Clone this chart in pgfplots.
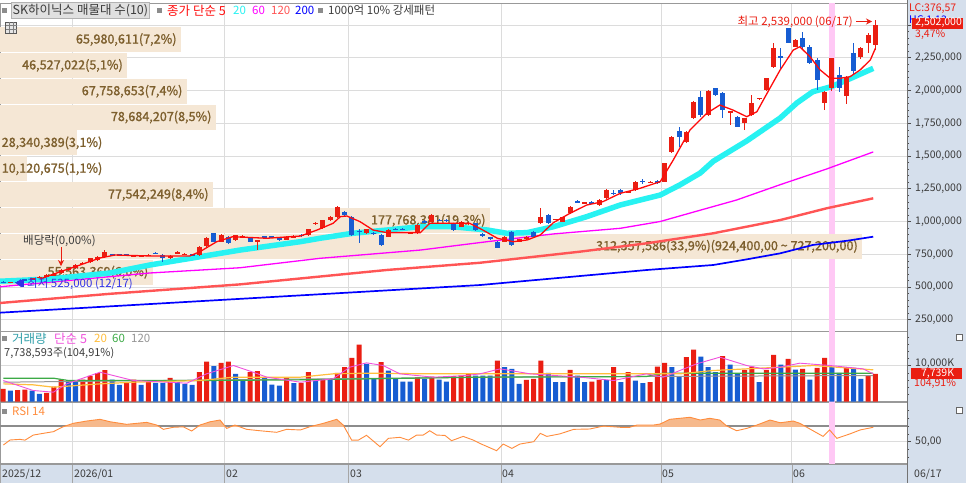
\documentclass[border=0pt]{standalone}
\usepackage{fontspec}
\setmainfont{Noto Sans CJK KR}
\newfontfamily\bandfont{Noto Sans CJK KR}[FakeBold=1.2]
\usepackage{pgfplots}
\pgfplotsset{compat=1.18}
\usepackage{pgfplotstable}
\usetikzlibrary{arrows.meta}

\definecolor{cred}{RGB}{234,30,18}
\definecolor{cblue}{RGB}{22,92,210}
\definecolor{ma5}{RGB}{255,10,10}
\definecolor{ma20}{RGB}{40,242,242}
\definecolor{ma60}{RGB}{255,0,255}
\definecolor{ma120}{RGB}{255,85,85}
\definecolor{ma200}{RGB}{0,0,255}
\definecolor{band}{RGB}{245,231,213}
\definecolor{bandtxt}{RGB}{125,95,45}
\definecolor{gridc}{RGB}{220,220,220}
\definecolor{panel}{RGB}{213,223,236}
\definecolor{hl}{RGB}{255,200,245}
\definecolor{rsic}{RGB}{255,140,60}
\definecolor{rsifill}{RGB}{246,185,140}
\definecolor{vma5}{RGB}{240,80,220}
\definecolor{vma20}{RGB}{255,190,60}
\definecolor{vma60}{RGB}{60,170,70}
\definecolor{vma120}{RGB}{150,150,150}
\definecolor{txt}{RGB}{60,60,60}
\definecolor{teal}{RGB}{50,160,170}
\definecolor{lowc}{RGB}{50,50,230}

\newcommand{\fs}{\fontsize{10.5}{12}\selectfont}
\newcommand{\ms}{\fontsize{11.5}{13}\selectfont}
\newcommand{\ks}{\fontsize{12.5}{14}\selectfont}
\newcommand{\bfs}{\bandfont\fontsize{12.6}{14}\selectfont}

% candles: index, open, high, low, close, up(1)/down(0)  (prices in thousand won)
\pgfplotstableread{
i o h l c u
0 540 545 528 535 0
1 532 542 528 540 1
2 540 545 525 533 0
3 556 560 548 552 0
4 552 572 550 568 1
5 568 585 565 580 1
6 580 598 575 592 1
7 592 605 585 598 1
8 605 635 600 630 1
9 630 645 622 640 1
10 643 672 640 668 1
11 678 690 672 684 1
12 690 725 685 719 1
13 706 735 700 731 1
14 731 782 725 768 1
15 748 755 738 744 0
16 747 752 738 742 0
17 747 752 738 743 0
18 734 745 730 739 1
19 734 744 730 738 1
20 742 750 735 746 1
21 760 768 750 756 0
22 744 752 693 721 0
23 719 742 715 737 1
24 758 772 752 762 1
25 748 760 745 754 1
26 748 752 738 744 0
27 744 815 740 808 1
28 813 880 808 872 1
29 910 915 840 846 0
30 846 905 842 897 1
31 884 892 830 834 0
32 859 900 855 897 1
33 882 895 875 886 1
34 872 878 843 846 0
35 846 862 782 859 1
36 886 892 880 882 0
37 886 892 878 882 0
38 872 878 855 859 0
39 859 890 855 884 1
40 880 895 876 890 1
41 900 905 885 893 0
42 897 945 893 940 1
43 982 995 970 988 1
44 948 1015 945 1011 1
45 1011 1042 1005 1037 1
46 1037 1118 1030 1113 1
47 1075 1080 1045 1050 0
48 1037 1045 890 897 0
49 930 945 834 918 0
50 910 945 905 940 1
51 913 920 900 908 0
52 897 902 815 821 0
53 884 940 880 935 1
54 943 950 932 939 0
55 945 950 932 938 0
56 906 918 902 912 1
57 910 980 905 973 1
58 1004 1010 992 996 0
59 999 1060 995 1050 1
60 1015 1022 1005 1008 0
61 1015 1022 1000 1008 0
62 986 992 930 935 0
63 960 1005 955 999 1
64 982 995 975 988 1
65 986 992 930 935 0
66 900 910 885 895 0
67 878 885 862 870 0
68 846 852 795 800 0
69 846 890 842 884 1
70 922 930 815 821 0
71 846 868 842 864 1
72 864 888 860 884 1
73 922 930 880 884 0
74 986 1101 980 1037 1
75 1050 1055 980 986 0
76 1014 1022 1010 1018 1
77 999 1036 995 1032 1
78 1063 1118 1058 1113 1
79 1155 1165 1140 1150 0
80 1140 1150 1135 1146 1
81 1148 1160 1135 1142 0
82 1126 1168 1120 1164 1
83 1177 1245 1172 1240 1
84 1220 1240 1200 1215 0
85 1240 1250 1205 1215 0
86 1222 1236 1218 1230 1
87 1240 1310 1235 1304 1
88 1310 1322 1290 1302 0
89 1298 1312 1292 1305 1
90 1305 1315 1290 1300 0
91 1304 1450 1300 1444 1
92 1533 1655 1520 1647 1
93 1693 1724 1571 1647 0
94 1609 1690 1600 1686 1
95 1788 1920 1780 1915 1
96 1948 1999 1800 1813 0
97 1813 2005 1805 1999 1
98 2017 2022 1960 1966 0
99 1979 1985 1788 1851 0
100 1835 1845 1737 1840 1
101 1800 1806 1720 1724 0
102 1750 1792 1698 1788 1
103 1813 1966 1808 1902 1
104 1936 1946 1930 1942 1
105 2004 2097 2000 2093 1
106 2182 2360 2175 2322 1
107 2262 2322 2157 2255 0
108 2475 2480 2360 2360 0
109 2334 2395 2330 2386 1
110 2398 2449 2320 2334 0
111 2334 2345 2200 2212 0
112 2233 2245 2004 2080 0
113 1908 1995 1851 1985 1
114 2019 2250 2000 2248 1
115 2118 2182 1989 2019 0
116 1955 2110 1900 2100 1
117 2284 2360 2120 2150 0
118 2258 2330 2240 2322 1
119 2360 2440 2284 2425 1
120 2347 2539 2310 2502 1
}\candles

% volume (thousand shares), colour flag
\pgfplotstableread{
i v u
0 3538 1
1 3072 0
2 3150 1
3 3352 1
4 3072 0
5 2141 0
6 2421 1
7 4190 1
8 6145 1
9 5865 0
10 5400 0
11 6145 1
12 7169 1
13 7914 1
14 8751 1
15 6145 0
16 4655 0
17 5400 1
18 6145 1
19 4655 0
20 5400 1
21 5214 0
22 5214 0
23 6610 1
24 5400 0
25 4934 0
26 4655 0
27 8193 1
28 11172 1
29 9869 0
30 10800 1
31 11172 1
32 7727 0
33 5865 0
34 8193 1
35 8472 1
36 6517 0
37 4748 0
38 4469 0
39 6796 1
40 5121 0
41 5214 1
42 8193 1
43 5865 0
44 6331 1
45 6300 0
46 8007 1
47 9589 1
48 12196 1
49 15920 1
50 10520 0
51 6331 0
52 10986 1
53 8658 0
54 6331 0
55 5586 0
56 5586 0
57 6796 1
58 6331 0
59 6983 1
60 6145 0
61 5586 0
62 7076 1
63 7262 1
64 7727 1
65 7262 0
66 7262 0
67 7262 0
68 11451 1
69 9589 0
70 9124 0
71 4934 0
72 6052 1
73 6331 1
74 11451 1
75 8007 0
76 5400 0
77 5400 0
78 8845 1
79 7262 0
80 5400 0
81 5586 1
82 6052 1
83 5950 0
84 9589 1
85 5400 0
86 8193 1
87 5865 0
88 5121 0
89 5400 1
90 9776 1
91 10800 1
92 9589 0
93 6983 0
94 12382 1
95 14524 1
96 12569 0
97 9589 0
98 8193 0
99 12662 1
100 10334 0
101 7727 0
102 8845 1
103 9776 1
104 5400 0
105 8845 1
106 13034 1
107 10334 0
108 11917 1
109 8938 0
110 9100 1
111 6145 0
112 9403 1
113 12196 1
114 9589 0
115 8007 0
116 9589 1
117 9403 0
118 6331 0
119 7262 1
120 7739 1
}\vol

\pgfplotstableread{
i r
0.05 45.8
0.97 52.2
2.34 53
3.03 52
4.17 58.5
5.55 60.7
6.93 62.8
8.3 69.2
9.68 73.5
11.51 76.4
13.35 78.6
14.72 75.5
17.0 72.2
19.76 74.7
21.14 71.3
22.06 65.8
23.43 68.4
24.8 69
25.95 63.7
27.1 71.3
28.5 75.5
29.85 77.7
30.77 67
31.9 71.3
33.5 65.8
35.35 64
37.65 62
39.0 65.8
40.9 65
42.23 69.2
44.07 73.5
45.9 78.6
46.8 71.3
47.96 52
48.88 52
50.0 58.2
51.86 43.6
53.0 54.3
54.6 55.6
55.76 52
56.9 58.5
57.8 58.5
58.7 64
59.65 58.5
60.8 58
61.7 51.3
63.3 56.8
64.7 52
65.6 47.8
67.9 38.5
68.8 47
70.0 41.5
71.1 47
73.0 50
73.9 60.7
74.8 56.8
76.6 60
78.5 65.8
80.7 66.2
82.6 70
84.9 68.4
86.2 68.4
87.2 71.3
89.5 71.3
90.4 72.6
91.7 78.6
93.1 79.9
94.5 81.2
95.9 77.7
97.2 79.9
98.6 77.7
99.5 70.4
100.9 64
102.3 67
103.7 71.3
105.5 77.7
106.9 74.2
108.7 76.4
109.6 73.5
111.0 66.2
112.8 56.8
113.7 65
114.7 54.3
116.5 60
117.9 65
119.7 68.4
}\rsi

\pgfplotsset{panel/.style={
  scale only axis, width=907pt, anchor=north west,
  xmin=-0.4127, xmax=124.347,
  axis line style={draw=black!40, line width=0.9pt},
  xtick={9.5,30.5,47.5,68.5,90.5,108.5}, xticklabels={},
  xtick style={draw=none},
  xmajorgrids, ymajorgrids,
  major grid style={draw=gridc, line width=0.8pt},
  ytick pos=right, yticklabel pos=right, tick align=outside,
  major tick length=4pt, minor tick length=2pt,
  scaled y ticks=false,
  ytick style={draw=black!70, line width=0.6pt},
  yticklabel style={font=\fs, text=txt, anchor=west, inner sep=0pt, xshift=4pt},
}}

\begin{document}
\begin{tikzpicture}[x=1pt,y=1pt]
\fill[white] (0,0) rectangle (966,-483);
\fill[panel] (907,0) rectangle (966,-483);
\fill[panel] (0,-464) rectangle (907,-483);

%================ PRICE PANEL =================
\begin{axis}[panel, at={(0pt,-3pt)}, height=328pt,
  ymin=164.1, ymax=2667.9,
  ytick={250,500,750,1000,1250,1500,1750,2000,2250,2500},
  yticklabels={{250,000},{500,000},{750,000},{1,000,000},{1,250,000},{1,500,000},{1,750,000},{2,000,000},{2,250,000},{}},
  minor y tick num=4]
% highlighted day
\addplot[hl, line width=6pt, forget plot] coordinates {(114,0) (114,3000)};
% volume profile bands (price range in thousand won, right end in candle index)
\addplot[fill=band, draw=none] coordinates {(-1,518.5) (20.63,518.5) (20.63,708.7) (-1,708.7)};
\addplot[fill=band, draw=none] coordinates {(-1,715.7) (118.16,715.7) (118.16,905.9) (-1,905.9)};
\addplot[fill=band, draw=none] coordinates {(-1,912.9) (66.99,912.9) (66.99,1103.1) (-1,1103.1)};
\addplot[fill=band, draw=none] coordinates {(-1,1110.1) (28.89,1110.1) (28.89,1300.3) (-1,1300.3)};
\addplot[fill=band, draw=none] coordinates {(-1,1307.3) (3.30,1307.3) (3.30,1497.5) (-1,1497.5)};
\addplot[fill=band, draw=none] coordinates {(-1,1504.5) (10.18,1504.5) (10.18,1694.7) (-1,1694.7)};
\addplot[fill=band, draw=none] coordinates {(-1,1701.7) (29.30,1701.7) (29.30,1891.9) (-1,1891.9)};
\addplot[fill=band, draw=none] coordinates {(-1,1898.9) (25.31,1898.9) (25.31,2089.1) (-1,2089.1)};
\addplot[fill=band, draw=none] coordinates {(-1,2096.1) (17.06,2096.1) (17.06,2286.3) (-1,2286.3)};
\addplot[fill=band, draw=none] coordinates {(-1,2293.3) (24.48,2293.3) (24.48,2483.5) (-1,2483.5)};
\node[anchor=east, text=bandtxt, font=\bfs, inner sep=0pt] at (axis cs:20.0,613.6) {55,563,369(6,0\%)};
\node[anchor=east, text=bandtxt, font=\bfs, inner sep=0pt] at (axis cs:117.6,810.8) {312,357,586(33,9\%)(924,400,00 \textasciitilde\ 727,200,00)};
\node[anchor=east, text=bandtxt, font=\bfs, inner sep=0pt] at (axis cs:66.4,1008) {177,768,381(19,3\%)};
\node[anchor=east, text=bandtxt, font=\bfs, inner sep=0pt] at (axis cs:28.3,1205.2) {77,542,249(8,4\%)};
\node[anchor=west, text=bandtxt, font=\bfs, inner sep=0pt] at (axis cs:-0.2,1402.4) {10,120,675(1,1\%)};
\node[anchor=west, text=bandtxt, font=\bfs, inner sep=0pt] at (axis cs:-0.2,1599.6) {28,340,389(3,1\%)};
\node[anchor=east, text=bandtxt, font=\bfs, inner sep=0pt] at (axis cs:28.7,1796.8) {78,684,207(8,5\%)};
\node[anchor=east, text=bandtxt, font=\bfs, inner sep=0pt] at (axis cs:24.7,1994.0) {67,758,653(7,4\%)};
\node[anchor=east, text=bandtxt, font=\bfs, inner sep=0pt] at (axis cs:16.5,2191.2) {46,527,022(5,1\%)};
\node[anchor=east, text=bandtxt, font=\bfs, inner sep=0pt] at (axis cs:23.9,2388.4) {65,980,611(7,2\%)};
% moving averages
\addplot[ma200, line width=1.7pt] coordinates {(-0.41,304) (65.6,515) (79.4,584) (88.6,630) (97.7,668) (102.3,711) (106.9,757) (111.4,821) (116.1,853) (119.7,884)};
\addplot[ma120, line width=2.4pt] coordinates {(-0.41,378) (14.7,448) (32.6,520) (52.8,630) (65.6,685) (79.4,770) (88.6,834) (97.7,910) (106.9,1011) (113.3,1101) (119.7,1177)};
\addplot[ma60, line width=1.3pt] coordinates {(-0.41,502) (20.2,607) (32.6,647) (43.6,719) (57.4,782) (66.6,846) (75.7,905) (84.9,948) (90.4,1000) (95.5,1080) (100.9,1164) (106.9,1281) (113.3,1401) (119.7,1531)};
\addplot[ma20, line width=5.5pt] coordinates {(-0.41,544) (6.46,561) (14.7,607) (20.2,668) (27.1,731) (32.6,782) (40.9,846) (43.6,872) (48.1,910) (52.8,935) (57.4,960) (61.9,960) (66.6,935) (69.3,910) (72.1,915) (75.7,960) (80.3,1037) (84.9,1126) (90.4,1202) (93.1,1279) (95.9,1370) (97.7,1460) (102.3,1615) (106.9,1790) (109.2,1905) (111.4,1991) (113.8,2027) (116.1,2080) (119.7,2169)};
% candles: wicks
\addplot[draw=none, mark=none, restrict expr to domain={\thisrow{u}}{0.5:1.5},
  error bars/.cd, y dir=both, y explicit, error mark=none, error bar style={draw=cred, line width=1pt}]
  table[x=i, y expr={(\thisrow{h}+\thisrow{l})/2}, y error expr={(\thisrow{h}-\thisrow{l})/2}] {\candles};
\addplot[draw=none, mark=none, restrict expr to domain={\thisrow{u}}{-0.5:0.5},
  error bars/.cd, y dir=both, y explicit, error mark=none, error bar style={draw=cblue, line width=1pt}]
  table[x=i, y expr={(\thisrow{h}+\thisrow{l})/2}, y error expr={(\thisrow{h}-\thisrow{l})/2}] {\candles};
% candles: bodies
\addplot[draw=none, mark=none, restrict expr to domain={\thisrow{u}}{0.5:1.5},
  error bars/.cd, y dir=both, y explicit, error mark=none, error bar style={draw=cred, line width=5pt}]
  table[x=i, y expr={(\thisrow{o}+\thisrow{c})/2}, y error expr={max(abs(\thisrow{c}-\thisrow{o})/2,3.8)}] {\candles};
\addplot[draw=none, mark=none, restrict expr to domain={\thisrow{u}}{-0.5:0.5},
  error bars/.cd, y dir=both, y explicit, error mark=none, error bar style={draw=cblue, line width=5pt}]
  table[x=i, y expr={(\thisrow{o}+\thisrow{c})/2}, y error expr={max(abs(\thisrow{c}-\thisrow{o})/2,3.8)}] {\candles};
% MA 5
\addplot[ma5, line width=1.3pt] coordinates {(5.1,561) (7.8,615) (10.6,668) (13.3,721) (15.4,744) (20.2,737) (25.7,737) (27.1,770) (29.4,846) (31.6,884) (36.3,872) (40.9,889) (43.2,935) (45.4,986) (46.4,1037) (47.3,1042) (49.1,999) (50.9,935) (52.8,915) (57.4,915) (58.7,986) (64.2,986) (66,935) (68,872) (70.2,846) (72.1,859) (73.9,897) (75.7,991) (78,1063) (80.3,1126) (82.5,1151) (84.9,1215) (87.6,1253) (90.4,1304) (92.2,1470) (94.5,1699) (96.8,1826) (98.6,1889) (100.4,1851) (102.3,1800) (103.7,1838) (105.1,1979) (106.9,2157) (108.7,2309) (109.6,2334) (111,2258) (112.4,2157) (113.8,2093) (115.1,2093) (116.5,2105) (117.9,2157) (119.3,2233) (120,2322)};
\end{axis}

%================ VOLUME PANEL =================
\begin{axis}[panel, at={(0pt,-331pt)}, height=70.5pt,
  ymin=0, ymax=19693,
  ytick={10000}, yticklabels={\mbox{10,000K}},
  yticklabel style={yshift=2pt},
  minor ytick={2000,4000,6000,8000,12000,14000,16000,18000}]
\addplot[hl, line width=6pt, forget plot] coordinates {(114,0) (114,30000)};
\addplot[ybar, bar width=5pt, bar shift=0pt, fill=cred, draw=none,
  restrict expr to domain={\thisrow{u}}{0.5:1.5}] table[x=i, y=v] {\vol};
\addplot[ybar, bar width=5pt, bar shift=0pt, fill=cblue, draw=none,
  restrict expr to domain={\thisrow{u}}{-0.5:0.5}] table[x=i, y=v] {\vol};
\addplot[vma120, line width=1pt] coordinates {(0.05,5400) (65.6,6796) (119.7,7262)};
\addplot[vma60, line width=1.2pt] coordinates {(0.05,6517) (6.93,6517) (9.0,5865) (27.1,5865) (40.9,6052) (65.6,6796) (88.5,6983) (90.8,7914) (119.7,7914)};
\addplot[vma20, line width=1.2pt] coordinates {(0.05,4934) (4.17,4655) (6.93,4003) (13.35,4934) (17.93,5400) (27.1,5865) (31.7,6796) (40.9,6796) (45.4,7727) (50.0,7914) (59.2,7727) (65.6,7727) (93.1,7727) (97.7,8658) (102.3,9124) (106.9,9589) (111.5,10055) (119.7,8845)};
\addplot[vma5, line width=0.9pt] coordinates {(0.05,5865) (4.17,3072) (6.93,2607) (8.76,4934) (13.35,8193) (17.93,5865) (22.5,5400) (25.3,5121) (28.0,7727) (31.7,10055) (34.4,8193) (36.3,6796) (40.9,5400) (45.4,6331) (47.7,9589) (50.0,10800) (52.3,10055) (54.6,7727) (59.2,6796) (63.8,7262) (65.6,7727) (68.4,9124) (72.5,7727) (79.4,6796) (84.0,5865) (88.5,7727) (90.8,6796) (95.4,10520) (98.6,12382) (102.3,10055) (104.6,9124) (106.9,9589) (109.6,10707) (113.8,10055) (118.3,9124) (119.7,7727)};
\end{axis}

%================ RSI PANEL =================
\begin{axis}[panel, at={(0pt,-402pt)}, height=61.5pt,
  ymin=22.16, ymax=100.7,
  ytick={50}, yticklabels={\mbox{50,00}},
  minor ytick={30,40,60,70,80,90},
  extra y ticks={70}, extra y tick labels={},
  extra y tick style={major grid style={draw=black!45, line width=1.4pt}, ytick style={draw=none}}]
\addplot[hl, line width=6pt, forget plot] coordinates {(114,0) (114,120)};
\begin{scope}
\clip (axis cs:-1,70) rectangle (axis cs:130,101);
\addplot[fill=rsifill, draw=none] table[x=i, y=r] {\rsi} \closedcycle;
\end{scope}
\addplot[rsic, line width=0.9pt] table[x=i, y=r] {\rsi};
\end{axis}

%================ DATE STRIP & DECORATION =================
\draw[black!40, line width=1pt] (0,-464.5) -- (907,-464.5);
\foreach \xx in {0.5,72.3,224.7,348.3,501,661,792} \draw[black!35, line width=0.8pt] (\xx,-465) -- (\xx,-483);
\draw[black!55, line width=0.8pt] (907,0) -- (907,-483);
\begin{scope}[every node/.style={font=\fs, text=txt, anchor=west, inner sep=0pt}]
\node at (2,-474) {2025/12};
\node at (74,-474) {2026/01};
\node at (226,-474) {02};
\node at (350,-474) {03};
\node at (502,-474) {04};
\node at (662,-474) {05};
\node at (793,-474) {06};
\node at (914,-474) {06/17};
\end{scope}

% top legend
\fill[black!45] (2,-8) rectangle (7,-13);
\node[draw=black!30, fill=black!12, anchor=west, inner sep=1.5pt, text=txt, font=\ks, minimum height=14pt] at (11,-10.5) {SK하이닉스 매물대 수(10)};
\fill[black!45] (157,-8) rectangle (162,-13);
\node[anchor=west, inner sep=0pt, font=\ks, text=ma5] at (167,-10.5) {종가 단순 5};
\node[anchor=west, inner sep=0pt, font=\ms, text=ma20] at (233,-10.5) {20};
\node[anchor=west, inner sep=0pt, font=\ms, text=ma60] at (252,-10.5) {60};
\node[anchor=west, inner sep=0pt, font=\ms, text=ma120] at (271,-10.5) {120};
\node[anchor=west, inner sep=0pt, font=\ms, text=ma200] at (295,-10.5) {200};
\fill[black!45] (318,-8) rectangle (323,-13);
\node[anchor=west, inner sep=0pt, font=\ms, text=txt] at (328,-10.5) {1000억 10\% 강세패턴};
\draw[black!65, fill=black!10] (5.5,-22) rectangle (16.5,-33);
\draw[black!50] (5.5,-25.5) -- (16.5,-25.5) (5.5,-29) -- (16.5,-29) (9.2,-22) -- (9.2,-33) (12.8,-22) -- (12.8,-33);

% annotations
\node[anchor=west, inner sep=0pt, font=\ms, text=txt] at (23,-241) {배당락(0,00\%)};
\draw[cred, line width=0.9pt, -{Stealth[length=6pt,width=6pt]}] (61,-247) -- (61,-266);
\fill[lowc] (15.5,-283) -- (21,-279) -- (21,-287) -- cycle;
\fill[lowc] (21,-279.5) rectangle (24,-286.5);
\node[anchor=west, inner sep=0pt, font=\ms, text=lowc] at (27,-283.5) {최저 525,000 (12/17)};
\node[anchor=east, inner sep=0pt, font=\ms, text=cred] at (853,-21.5) {최고 2,539,000 (06/17)};
\draw[cred, line width=0.9pt, -{Stealth[length=6pt,width=6pt]}] (856,-21.5) -- (872,-21.5);

% right panel labels
\node[anchor=west, inner sep=0pt, font=\fs, text=cred] at (909,-8.5) {LC:376,57};
\node[anchor=west, inner sep=0pt, font=\fs, text=ma200] at (909,-20.5) {HC:1,13};
\node[anchor=west, fill=cred, text=white, inner sep=0pt, minimum height=11pt, minimum width=51pt, font=\fs] at (912,-23) {\,2,502,000};
\node[anchor=west, inner sep=0pt, font=\fs, text=cred] at (915,-34.5) {3,47\%};
\node[anchor=west, fill=cred, text=white, inner sep=0pt, minimum height=11pt, minimum width=51pt, font=\fs] at (911,-373.5) {\,7,739K};
\node[anchor=west, inner sep=0pt, font=\fs, text=cred] at (914,-384) {104,91\%};
\draw[black!60, fill=white] (956,-334) rectangle (962,-340);
\draw[black!60, fill=white] (956,-407) rectangle (962,-413);

% sub-panel legends
\fill[black!45] (2,-336) rectangle (7,-341);
\node[anchor=west, inner sep=0pt, font=\ks, text=teal] at (12,-338.5) {거래량};
\node[anchor=west, inner sep=0pt, font=\ks, text=vma5] at (54,-338.5) {단순 5};
\node[anchor=west, inner sep=0pt, font=\ms, text=vma20] at (94,-338.5) {20};
\node[anchor=west, inner sep=0pt, font=\ms, text=vma60] at (112,-338.5) {60};
\node[anchor=west, inner sep=0pt, font=\ms, text=vma120] at (131,-338.5) {120};
\node[anchor=west, inner sep=0pt, font=\fontsize{11}{12}\selectfont, text=txt] at (4,-353) {7,738,593주(104,91\%)};
\fill[black!45] (2,-408.5) rectangle (7,-413.5);
\node[anchor=west, inner sep=0pt, font=\ms, text=rsic] at (12,-411) {RSI 14};

\pgfresetboundingbox
\path[use as bounding box] (0,0) rectangle (966,-483);
\end{tikzpicture}
\end{document}
